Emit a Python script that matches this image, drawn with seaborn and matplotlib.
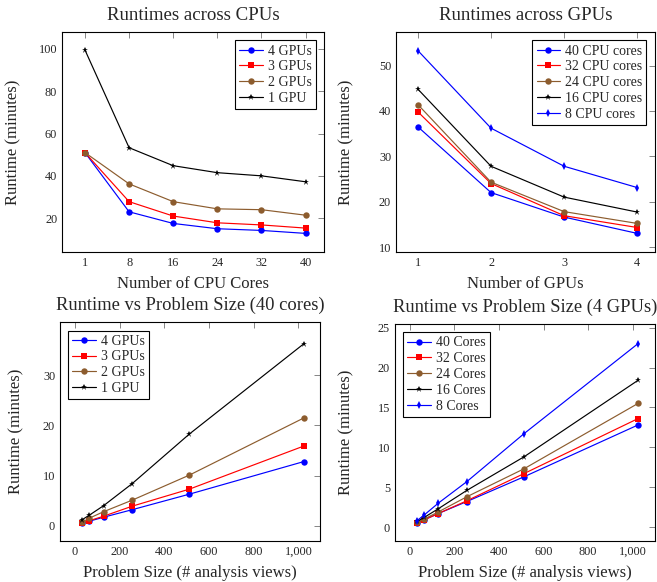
import matplotlib
matplotlib.use("Agg")
import matplotlib.pyplot as plt
import matplotlib.ticker as mticker
import seaborn as sns

# --- data ---
cpu_cores = ["1", "8", "16", "24", "32", "40"]
cpu_4gpu = [51.0, 23.0, 17.5, 15.0, 14.2, 12.8]
cpu_3gpu = [51.0, 27.8, 21.0, 17.8, 16.8, 15.3]
cpu_2gpu = [51.0, 36.2, 27.8, 24.4, 24.0, 21.4]
cpu_1gpu = [99.5, 53.3, 44.8, 41.5, 40.0, 37.2]

gpus = [1, 2, 3, 4]
gpu_40c = [36.5, 22.0, 16.6, 13.0]
gpu_32c = [39.8, 24.0, 16.9, 14.3]
gpu_24c = [41.4, 24.3, 17.8, 15.2]
gpu_16c = [44.8, 27.8, 21.0, 17.7]
gpu_8c = [53.3, 36.2, 27.8, 23.1]

sizes = [32, 64, 128, 256, 512, 1024]
size40_4gpu = [0.5, 0.9, 1.7, 3.2, 6.3, 12.8]
size40_3gpu = [0.6, 1.0, 1.9, 3.9, 7.3, 15.9]
size40_2gpu = [0.7, 1.5, 2.8, 5.1, 10.1, 21.5]
size40_1gpu = [1.2, 2.1, 4.0, 8.4, 18.3, 36.3]

size4g_40c = [0.5, 0.9, 1.7, 3.2, 6.3, 12.8]
size4g_32c = [0.5, 0.9, 1.7, 3.3, 6.7, 13.6]
size4g_24c = [0.6, 1.0, 1.9, 3.8, 7.3, 15.5]
size4g_16c = [0.7, 1.2, 2.3, 4.6, 8.8, 18.4]
size4g_8c = [0.8, 1.5, 3.0, 5.7, 11.7, 23.0]

gpu_labels = ["4 GPUs", "3 GPUs", "2 GPUs", "1 GPU"]
cpu_labels = ["40 CPU cores", "32 CPU cores", "24 CPU cores", "16 CPU cores", "8 CPU cores"]
core_labels = ["40 Cores", "32 Cores", "24 Cores", "16 Cores", "8 Cores"]

# pgfplots default cycle list
styles = [
    dict(color="#0000ff", marker="o", markersize=4.6),
    dict(color="#ff0000", marker="s", markersize=4.4),
    dict(color="#8c5c2e", marker="o", markersize=4.6),
    dict(color="#000000", marker="*", markersize=4.5),
    dict(color="#0000ff", marker="d", markersize=4.0),
]

sns.set_theme(style="white")
plt.rcParams["font.family"] = ["Liberation Serif", "DejaVu Serif"]
plt.rcParams["mathtext.fontset"] = "stix"


def draw(ax, x, series, labels):
    for vals, lab, st in zip(series, labels, styles):
        sns.lineplot(ax=ax, x=x, y=vals, label=lab, linewidth=0.85,
                     markeredgewidth=0, **st)


def style_axis(ax, title, xlabel, ylab_x, title_size=13.6):
    ax.set_title(title, fontsize=title_size, pad=9)
    ax.set_xlabel(xlabel, fontsize=12, labelpad=5)
    ax.set_ylabel("Runtime (minutes)", fontsize=12)
    ax.yaxis.set_label_coords(ylab_x, 0.5)
    for s in ax.spines.values():
        s.set_color("black")
        s.set_linewidth(0.8)
    ax.tick_params(direction="in", length=4.5, width=0.5, color="#555555",
                   top=True, right=True, labelsize=8.8, pad=3.5)
    leg = ax.legend(loc="upper right", fontsize=10, fancybox=False,
                    edgecolor="black", framealpha=1, handlelength=1.7,
                    borderpad=0.3, labelspacing=0.2, handletextpad=0.35,
                    borderaxespad=0.6)
    leg.get_frame().set_linewidth(0.8)


fig = plt.figure(figsize=(6.57, 5.82), dpi=100)
ax1 = fig.add_axes([0.0944, 0.567, 0.399, 0.378])
ax2 = fig.add_axes([0.6027, 0.567, 0.394, 0.378])
ax3 = fig.add_axes([0.0913, 0.0704, 0.396, 0.376])
ax4 = fig.add_axes([0.601, 0.0704, 0.396, 0.373])

# panel 1: categorical cpu cores
pos = list(range(len(cpu_cores)))
draw(ax1, pos, [cpu_4gpu, cpu_3gpu, cpu_2gpu, cpu_1gpu], gpu_labels)
ax1.set_xticks(pos)
ax1.set_xticklabels(cpu_cores)
ax1.set_xlim(-0.52, 5.42)
ax1.set_ylim(4, 108)
ax1.set_yticks([20, 40, 60, 80, 100])
style_axis(ax1, "Runtimes across CPUs", "Number of CPU Cores", -0.156)

# panel 2
draw(ax2, gpus, [gpu_40c, gpu_32c, gpu_24c, gpu_16c, gpu_8c], cpu_labels)
ax2.set_xticks(gpus)
ax2.set_xlim(0.70, 4.24)
ax2.set_ylim(8.9, 57.4)
ax2.set_yticks([10, 20, 30, 40, 50])
style_axis(ax2, "Runtimes across GPUs", "Number of GPUs", -0.162)

comma = mticker.FuncFormatter(lambda v, p: f"{v:,.0f}")

# panel 3
draw(ax3, sizes, [size40_4gpu, size40_3gpu, size40_2gpu, size40_1gpu], gpu_labels)
ax3.set_xlim(-67, 1097)
ax3.set_ylim(-3.05, 40.6)
ax3.set_xticks([0, 200, 400, 600, 800, 1000])
ax3.set_yticks([0, 10, 20, 30])
ax3.xaxis.set_major_formatter(comma)
style_axis(ax3, "Runtime vs Problem Size (40 cores)", "Problem Size (# analysis views)",
           -0.138, title_size=13.3)
ax3.legend_.set_loc("upper left")

# panel 4
draw(ax4, sizes, [size4g_40c, size4g_32c, size4g_24c, size4g_16c, size4g_8c], core_labels)
ax4.set_xlim(-67, 1100)
ax4.set_ylim(-1.75, 25.46)
ax4.set_xticks([0, 200, 400, 600, 800, 1000])
ax4.set_yticks([0, 5, 10, 15, 20, 25])
ax4.xaxis.set_major_formatter(comma)
style_axis(ax4, "Runtime vs Problem Size (4 GPUs)", "Problem Size (# analysis views)",
           -0.154, title_size=13.3)
ax4.legend_.set_loc("upper left")

fig.savefig("out.png", dpi=100)
